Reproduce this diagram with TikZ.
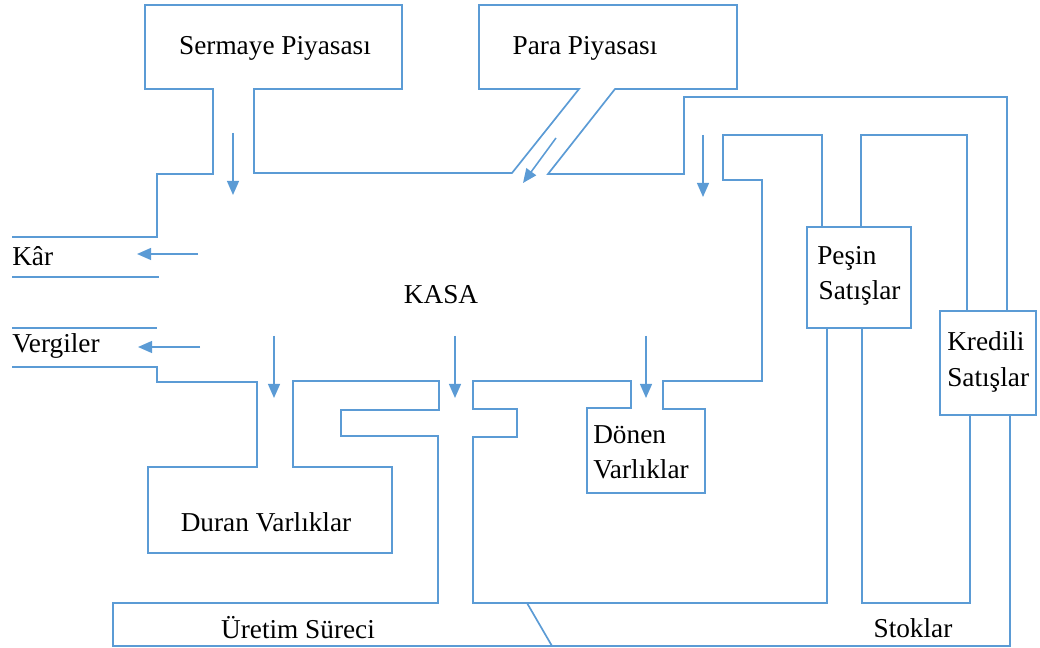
\documentclass[tikz,border=0pt]{standalone}
\usepackage{fontspec}
\setmainfont{Liberation Serif}
\usepackage{tikz}
\usetikzlibrary{
  arrows.meta,              % Triangle 箭头
  calc                      % 坐标计算
}

\definecolor{pipeblue}{HTML}{5B9BD5}

\begin{document}
\begin{tikzpicture}[x=0.025cm, y=-0.025cm,
  pipe/.style={pipeblue, line width=1.2pt, line join=miter},
  flow/.style={pipeblue, line width=1.1pt, -{Triangle[length=10pt, width=8.5pt]}},
  lbl/.style={inner sep=0pt, font=\fontsize{19.4}{25}\selectfont, text=black}]

  % 画布大小 (1040 x 648)
  \useasboundingbox (0,0) rectangle (1040,648);

  % =========== 上部：两个市场与通向右侧的管道 ===========
  \draw[pipe] (12,237) -- (157,237) -- (157,174) -- (213,174) -- (213,89)
    -- (145,89) -- (145,5) -- (402,5) -- (402,89) -- (254,89) -- (254,173)
    -- (512,173) -- (579,89) -- (479,89) -- (479,5) -- (737,5) -- (737,89)
    -- (615,89) -- (548,174) -- (684,174) -- (684,97) -- (1007,97) -- (1007,311);
  \draw[pipe] (12,277) -- (159,277);   % Kâr 下边
  \draw[pipe] (12,328) -- (157,328);   % Vergiler 上边

  % =========== 右侧：销售框 ===========
  \draw[pipe] (807,227) rectangle (911,328);    % Peşin
  \draw[pipe] (940,311) rectangle (1036,415);   % Kredili
  \draw[pipe] (861,227) -- (861,135) -- (967,135) -- (967,311);
  \draw[pipe] (862,328) -- (862,603) -- (970,603) -- (970,415);

  % =========== 中部：流动资产与生产过程 ===========
  \draw[pipe] (822,227) -- (822,135) -- (723,135) -- (723,180) -- (762,180)
    -- (762,381) -- (663,381) -- (663,409) -- (705,409) -- (705,493)
    -- (587,493) -- (587,408) -- (631,408) -- (631,381) -- (473,381)
    -- (473,409) -- (517,409) -- (517,437) -- (473,437) -- (473,603)
    -- (827,603) -- (827,328);

  % =========== 左下：固定资产与外框 ===========
  \draw[pipe] (1010,415) -- (1010,646) -- (113,646) -- (113,603) -- (438,603)
    -- (438,436) -- (341,436) -- (341,410) -- (439,410) -- (439,381)
    -- (293,381) -- (293,467) -- (392,467) -- (392,553) -- (148,553)
    -- (148,467) -- (257,467) -- (257,382) -- (157,382) -- (157,367) -- (12,367);
  \draw[pipe] (527,603) -- (552,646);   % 生产与存货的分隔线

  % =========== 流向箭头 ===========
  \draw[flow] (233,133) -- (233,195);   % 资本市场
  \draw[flow] (556,138) -- (523,183);   % 货币市场
  \draw[flow] (703,135) -- (703,197);   % 销售回款
  \draw[flow] (198,254) -- (137,254);   % 利润
  \draw[flow] (200,347) -- (138,347);   % 税
  \draw[flow] (274,336) -- (274,398);   % 固定资产
  \draw[flow] (455,336) -- (455,398);   % 生产
  \draw[flow] (646,336) -- (646,398);   % 流动资产

  % =========== 文字 ===========
  \node[lbl] (sermaye) at (275,48) {Sermaye Piyasası};
  \node[lbl] (para) at (585,48) {Para Piyasası};
  \node[lbl] (kasa) at (441,295) {KASA};
  \node[lbl, anchor=west] (kar) at (12,256) {Kâr};
  \node[lbl, anchor=west] (vergi) at (12,346) {Vergiler};
  \node[lbl] (duran) at (266,522) {Duran Varlıklar};
  \node[lbl, anchor=west, align=left] (donen) at (593,452) {Dönen\\Varlıklar};
  \node[lbl, anchor=west, align=left] (pesin) at (817,276) {Peşin\\\kern1pt Satışlar};
  \node[lbl, anchor=west, align=left] (kredili) at (947,362) {Kredili\\Satışlar};
  \node[lbl] (uretim) at (298,628) {Üretim Süreci};
  \node[lbl] (stok) at (913,628) {Stoklar};

\end{tikzpicture}
\end{document}
